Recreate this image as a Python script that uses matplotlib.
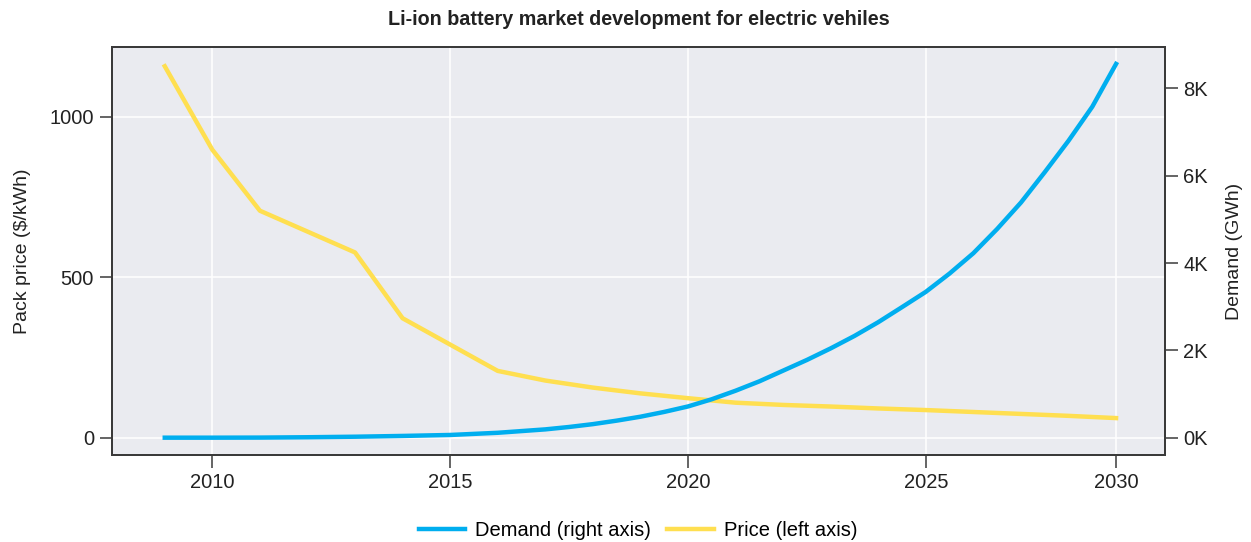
import matplotlib
matplotlib.use("Agg")
import matplotlib.pyplot as plt

plt.rcParams['font.family'] = ['Liberation Sans', 'DejaVu Sans']

# data
years = [2009, 2010, 2011, 2012, 2013, 2014, 2015, 2016, 2017, 2018, 2019,
         2020, 2021, 2022, 2023, 2024, 2025, 2026, 2027, 2028, 2029]
price = [1157, 897, 707, 642, 577, 372, 290, 208, 178, 156, 138,
         123, 109, 102, 97, 91, 86, 80, 74, 68, 61]

# demand curve read at yearly / half-yearly points (curve is smooth in the source)
demand_years = [2009, 2010, 2011, 2012, 2013, 2014, 2015, 2016, 2017, 2017.5,
                2018, 2018.5, 2019, 2019.5, 2020, 2020.5, 2021, 2021.5, 2022,
                2022.5, 2023, 2023.5, 2024, 2024.5, 2025, 2025.5, 2026, 2026.5,
                2027, 2027.5, 2028, 2028.5, 2029]
demand = [0, 0, 2, 10, 22, 40, 62, 112, 190, 245,
          310, 390, 480, 590, 715, 880, 1075, 1290, 1535,
          1780, 2045, 2330, 2645, 2990, 3340, 3760, 4225, 4780,
          5385, 6080, 6800, 7580, 8560]

xtick_pos = [2010, 2015, 2020, 2025, 2029]
xtick_labels = ['2010', '2015', '2020', '2025', '2030']
left_ticks = [0, 500, 1000]
right_ticks = [0, 2000, 4000, 6000, 8000]
right_labels = ['0K', '2K', '4K', '6K', '8K']

BLUE = '#00aeef'
YELLOW = '#ffdf50'
BG = '#eaebf0'
FS = 14.5

fig = plt.figure(figsize=(12.51, 5.42), dpi=100)
ax = fig.add_axes([0.0895, 0.1605, 0.8418, 0.7528])
ax.set_facecolor(BG)
ax2 = ax.twinx()

lp, = ax.plot(years, price, color=YELLOW, lw=3.2, label='Price (left axis)', zorder=3)
ld, = ax2.plot(demand_years, demand, color=BLUE, lw=3.2, label='Demand (right axis)', zorder=3)

ax.set_xlim(2007.89, 2030.03)
ax.set_ylim(-54, 1217)
ax2.set_ylim(-397, 8948)

ax.set_xticks(xtick_pos)
ax.set_xticklabels(xtick_labels)
ax.set_yticks(left_ticks)
ax2.set_yticks(right_ticks)
ax2.set_yticklabels(right_labels)

ax.grid(True, color='white', lw=1.1)
ax.set_axisbelow(True)

for a in (ax, ax2):
    for s in a.spines.values():
        s.set_color('#3a3a3a')
        s.set_linewidth(1.4)
    a.tick_params(length=9, width=1.1, color='#3a3a3a', labelsize=FS,
                  labelcolor='#222222', pad=4)

ax.set_ylabel('Pack price ($/kWh)', fontsize=14, color='#222222', labelpad=13)
ax2.set_ylabel('Demand (GWh)', fontsize=14, color='#222222', labelpad=13)
ax.set_title('Li-ion battery market development for electric vehiles',
             fontsize=14.2, fontweight='bold', color='#222222', pad=16)

fig.legend(handles=[ld, lp], loc='lower center', bbox_to_anchor=(0.51, -0.03),
           ncol=2, frameon=False, fontsize=FS, handlelength=2.3, columnspacing=0.8,
           handletextpad=0.5)

fig.savefig('out.png', dpi=100)
